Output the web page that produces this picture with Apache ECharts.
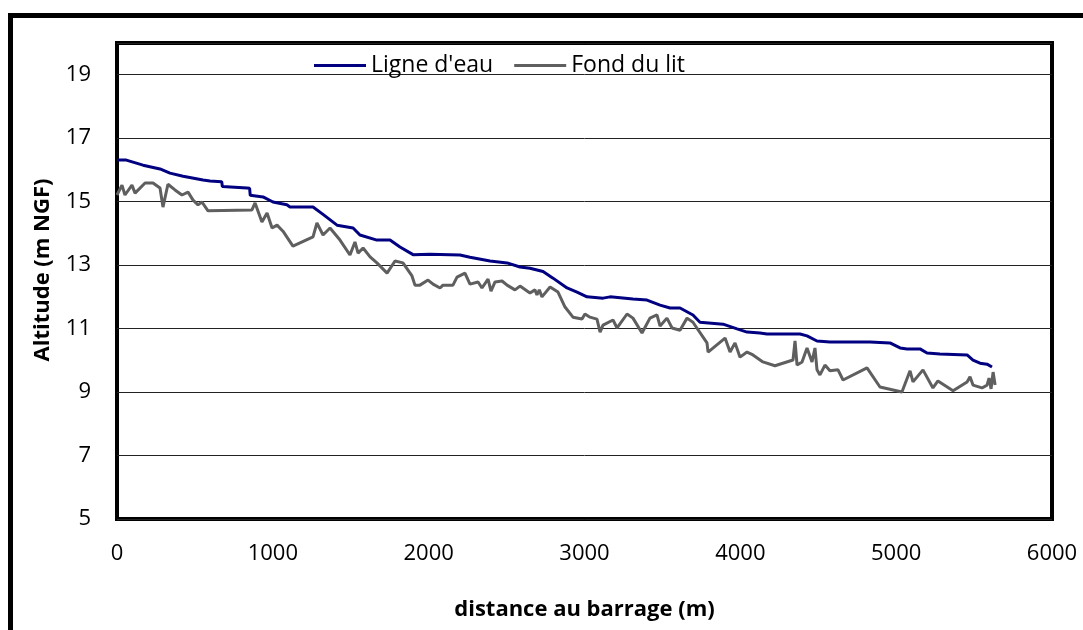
<!DOCTYPE html>
<html>
<head>
<meta charset="utf-8">
<script src="https://cdn.jsdelivr.net/npm/echarts@6/dist/echarts.min.js"></script>
<style>
  html, body { margin: 0; padding: 0; background: #fff; }
  #main { width: 1083px; height: 630px; }
</style>
</head>
<body>
<div id="main"></div>
<script>
// Ligne d'eau (water line)
let ligneDist = [0, 60, 167, 276, 340, 424, 552, 597, 672, 676, 834, 851, 855, 937, 1001, 1090, 1110, 1258, 1322, 1412, 1515, 1559, 1668, 1752, 1816, 1900, 2008, 2201, 2265, 2394, 2503, 2586, 2650, 2734, 2798, 2888, 2952, 3016, 3119, 3164, 3311, 3401, 3485, 3549, 3613, 3696, 3741, 3889, 3979, 4043, 4126, 4171, 4383, 4428, 4492, 4575, 4832, 4960, 5025, 5070, 5153, 5198, 5281, 5455, 5493, 5538, 5583, 5615];
let ligneAlt = [16.31, 16.31, 16.15, 16.03, 15.9, 15.8, 15.68, 15.65, 15.63, 15.48, 15.43, 15.42, 15.2, 15.15, 14.99, 14.9, 14.83, 14.83, 14.6, 14.26, 14.17, 13.95, 13.79, 13.79, 13.57, 13.33, 13.34, 13.32, 13.25, 13.13, 13.07, 12.94, 12.9, 12.8, 12.59, 12.28, 12.15, 12.0, 11.96, 12.0, 11.93, 11.9, 11.74, 11.65, 11.65, 11.43, 11.2, 11.14, 10.99, 10.89, 10.86, 10.83, 10.83, 10.77, 10.61, 10.58, 10.58, 10.55, 10.39, 10.36, 10.36, 10.23, 10.2, 10.17, 10.01, 9.91, 9.88, 9.79];

// Fond du lit (river bed)
let fondDist = [0, 32, 51, 96, 116, 180, 231, 276, 295, 327, 372, 417, 456, 488, 520, 545, 584, 866, 886, 930, 963, 995, 1027, 1065, 1129, 1258, 1283, 1322, 1367, 1431, 1495, 1527, 1547, 1579, 1624, 1668, 1733, 1784, 1835, 1893, 1912, 1944, 1996, 2028, 2073, 2092, 2156, 2182, 2233, 2265, 2317, 2342, 2381, 2400, 2426, 2471, 2503, 2554, 2586, 2650, 2682, 2695, 2710, 2727, 2779, 2830, 2875, 2926, 2984, 3003, 3035, 3080, 3100, 3119, 3183, 3209, 3273, 3311, 3369, 3420, 3465, 3485, 3529, 3562, 3613, 3658, 3696, 3786, 3793, 3902, 3934, 3966, 3998, 4043, 4081, 4145, 4222, 4338, 4351, 4364, 4396, 4428, 4460, 4479, 4492, 4511, 4543, 4575, 4627, 4659, 4813, 4896, 5037, 5089, 5108, 5172, 5236, 5268, 5365, 5455, 5474, 5493, 5551, 5583, 5596, 5609, 5622, 5635];
let fondAlt = [15.21, 15.52, 15.21, 15.52, 15.27, 15.59, 15.59, 15.43, 14.83, 15.55, 15.37, 15.21, 15.3, 15.05, 14.9, 14.99, 14.71, 14.74, 14.96, 14.36, 14.64, 14.17, 14.26, 14.07, 13.6, 13.89, 14.33, 13.95, 14.17, 13.79, 13.32, 13.73, 13.38, 13.54, 13.26, 13.07, 12.75, 13.13, 13.07, 12.66, 12.37, 12.37, 12.53, 12.4, 12.28, 12.37, 12.37, 12.62, 12.75, 12.4, 12.47, 12.28, 12.56, 12.18, 12.47, 12.5, 12.37, 12.22, 12.34, 12.12, 12.22, 12.06, 12.22, 12.0, 12.31, 12.15, 11.68, 11.36, 11.3, 11.46, 11.36, 11.3, 10.89, 11.11, 11.27, 11.02, 11.46, 11.33, 10.86, 11.33, 11.43, 11.08, 11.33, 11.02, 10.95, 11.33, 11.2, 10.55, 10.26, 10.7, 10.26, 10.55, 10.1, 10.26, 10.17, 9.95, 9.83, 10.01, 10.61, 9.85, 9.95, 10.39, 9.95, 10.39, 9.7, 9.54, 9.85, 9.67, 9.7, 9.38, 9.76, 9.16, 9.0, 9.67, 9.32, 9.7, 9.13, 9.35, 9.04, 9.32, 9.48, 9.22, 9.13, 9.22, 9.44, 9.1, 9.63, 9.22];

let xTicks = [0, 1000, 2000, 3000, 4000, 5000, 6000];
let yTicks = [5, 7, 9, 11, 13, 15, 17, 19];

let zip = (xs, ys) => xs.map((x, i) => [x, ys[i]]);

let myChart = echarts.init(document.getElementById('main'));
let font = "'Open Sans', 'Liberation Sans', sans-serif";
let option = {
  animation: false,
  backgroundColor: '#fff',
  textStyle: { fontFamily: font },
  graphic: [
    {
      // outer chart frame
      type: 'rect',
      left: 8, top: 13,
      shape: { width: 1100, height: 700 },
      style: { fill: 'none', stroke: '#000', lineWidth: 5 },
      silent: true
    },
    {
      // y axis title
      type: 'text',
      x: 43, y: 270,
      rotation: Math.PI / 2,
      style: {
        text: 'Altitude (m NGF)',
        fill: '#000',
        font: "bold 22px 'Open Sans', 'Liberation Sans', sans-serif",
        align: 'center',
        verticalAlign: 'middle'
      },
      silent: true
    }
  ],
  legend: {
    left: 314,
    top: 54,
    padding: 0,
    icon: 'rect',
    itemWidth: 52,
    itemHeight: 3,
    itemGap: 21,
    data: ["Ligne d'eau", 'Fond du lit'],
    textStyle: { fontSize: 23, color: '#000', fontFamily: font }
  },
  grid: {
    left: 117, top: 43, right: 31, bottom: 111,
    show: true,
    borderColor: '#000',
    borderWidth: 4,
    containLabel: false
  },
  xAxis: {
    type: 'value',
    min: 0, max: 6000, interval: 1000,
    name: 'distance au barrage (m)',
    nameLocation: 'middle',
    nameGap: 80,
    nameTextStyle: { fontSize: 22, fontWeight: 'bold', color: '#000', fontFamily: font },
    axisLine: { show: false },
    axisTick: { show: false },
    splitLine: { show: false },
    axisLabel: {
      fontSize: 22, color: '#000', margin: 24,
      formatter: v => xTicks.includes(v) ? String(v) : ''
    }
  },
  yAxis: {
    type: 'value',
    min: 5, max: 20, interval: 2,
    axisLine: { show: false },
    axisTick: { show: false },
    splitLine: { show: true, lineStyle: { color: '#222', width: 1 } },
    axisLabel: {
      fontSize: 22, color: '#000', margin: 26,
      showMaxLabel: false,
      formatter: v => yTicks.includes(v) ? String(v) : ''
    }
  },
  series: [
    {
      name: "Ligne d'eau",
      type: 'line',
      symbol: 'none',
      color: '#000080',
      lineStyle: { color: '#000080', width: 3 },
      data: zip(ligneDist, ligneAlt)
    },
    {
      name: 'Fond du lit',
      type: 'line',
      symbol: 'none',
      color: '#5f5f5f',
      lineStyle: { color: '#5f5f5f', width: 3 },
      data: zip(fondDist, fondAlt)
    }
  ]
};
myChart.setOption(option);
</script>
</body>
</html>
